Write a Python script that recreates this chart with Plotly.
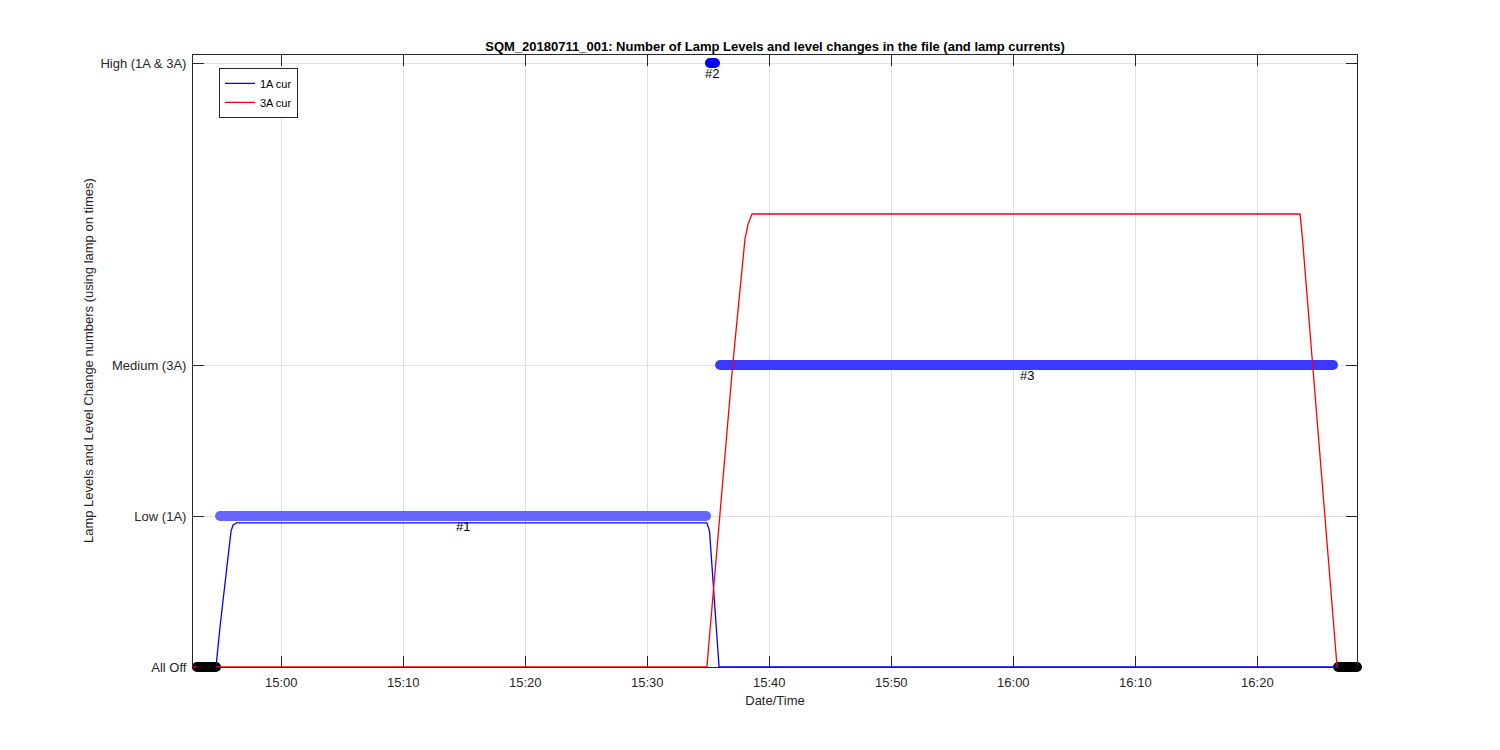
import pandas as pd
import plotly.graph_objects as go

DAY = "2018-07-11 "

# Lamp current traces (level units)
cur1a_times = ["14:52:46", "14:54:39", "14:55:00", "14:55:31", "14:55:43", "14:55:53",
               "14:56:03", "14:56:22", "15:34:53", "15:35:06", "15:35:53", "16:28:10"]
cur1a_vals = [0, 0, 0.28, 0.65, 0.80, 0.90, 0.94, 0.955, 0.955, 0.90, 0, 0]

cur3a_times = ["14:52:46", "15:34:53", "15:37:00", "15:38:00", "15:38:15", "15:38:27",
               "15:38:35", "16:23:30", "16:23:41", "16:26:32", "16:28:10"]
cur3a_vals = [0, 0, 2.0, 2.83, 2.93, 2.98, 3.0, 3.0, 2.85, 0, 0]

# Lamp level segments (level changes)
seg_start = ["14:53:05", "14:54:59", "15:35:08", "15:35:58", "16:26:37"]
seg_end = ["14:54:39", "15:34:49", "15:35:33", "16:26:12", "16:28:10"]
seg_level = [0, 1, 4, 2, 0]
seg_label = ["", "#1", "#2", "#3", ""]
seg_color = ["#000000", "#6666ff", "#0000ff", "#3a3aff", "#000000"]

y_tickvals = [0, 1, 2, 4]
y_ticktext = ["All Off", "Low (1A)", "Medium (3A)", "High (1A & 3A)"]

title = "SQM_20180711_001: Number of Lamp Levels and level changes in the file (and lamp currents)"
xlabel = "Date/Time"
ylabel = "Lamp Levels and Level Change numbers (using lamp on times)"

FONT = "Liberation Sans, Arial, sans-serif"
AXC = "#262626"


def ts(lst):
    return pd.to_datetime([DAY + t for t in lst])


fig = go.Figure()

for s, e, lv, c in zip(seg_start, seg_end, seg_level, seg_color):
    x = ts([s, e])
    fig.add_trace(go.Scatter(
        x=x, y=[lv, lv], mode="lines+markers",
        line=dict(color=c, width=10), marker=dict(color=c, size=10, symbol="circle"),
        showlegend=False, cliponaxis=False, hoverinfo="skip"))
    if lv == 0:
        # unclipped bar along the bottom axis (y domain 0 == level 0)
        fig.add_shape(type="line", xref="x", yref="y domain", x0=x[0], x1=x[1], y0=0, y1=0,
                      line=dict(color=c, width=10), layer="above")

fig.add_trace(go.Scatter(x=ts(cur1a_times), y=cur1a_vals, mode="lines",
                         line=dict(color="#0000ff", width=1.3), name="1A cur"))
fig.add_trace(go.Scatter(x=ts(cur3a_times), y=cur3a_vals, mode="lines",
                         line=dict(color="#ff0000", width=1.3), name="3A cur"))

for s, e, lv, lab in zip(seg_start, seg_end, seg_level, seg_label):
    if not lab:
        continue
    t0, t1 = ts([s, e])
    mid = t0 + (t1 - t0) / 2
    fig.add_annotation(x=mid, y=lv, text=lab, showarrow=False, yshift=-10,
                       font=dict(family=FONT, size=13, color="#000000"))

# y-axis title placed as in the reference
fig.add_annotation(xref="paper", yref="paper", x=-0.0902, y=0.5, xanchor="center", yanchor="middle",
                   text=ylabel, textangle=-90, showarrow=False,
                   font=dict(family=FONT, size=13, color=AXC))

axis_common = dict(showline=True, linecolor=AXC, linewidth=1, mirror="ticks",
                   ticks="inside", ticklen=11, tickcolor=AXC,
                   showgrid=True, gridcolor="#dfdfdf", gridwidth=1, zeroline=False,
                   tickfont=dict(family=FONT, size=13, color=AXC))

fig.update_layout(
    width=1500, height=750,
    margin=dict(l=185, r=151, t=47, b=91),
    plot_bgcolor="white", paper_bgcolor="white",
    title=dict(text="<b>" + title + "</b>", x=(185 + 1349) / 2 / 1500, xanchor="center",
               y=1 - 38 / 750, yanchor="middle",
               font=dict(family=FONT, size=13, color="#000000")),
    xaxis=dict(range=[pd.Timestamp(DAY + "14:52:46"), pd.Timestamp(DAY + "16:28:10")],
               tickformat="%H:%M", dtick=600000, tick0=DAY + "15:00:00",
               ticklabelstandoff=3,
               title=dict(text=xlabel, standoff=7,
                          font=dict(family=FONT, size=13, color=AXC)),
               **axis_common),
    yaxis=dict(range=[0, 4.053], tickvals=y_tickvals, ticktext=y_ticktext,
               ticklabelstandoff=3,
               **axis_common),
    legend=dict(x=0.0223, y=0.979, xanchor="left", yanchor="top",
                bgcolor="white", bordercolor=AXC, borderwidth=1,
                font=dict(family=FONT, size=11, color="#000000"),
                tracegroupgap=0),
    showlegend=True,
)

fig.write_html("out.html")
